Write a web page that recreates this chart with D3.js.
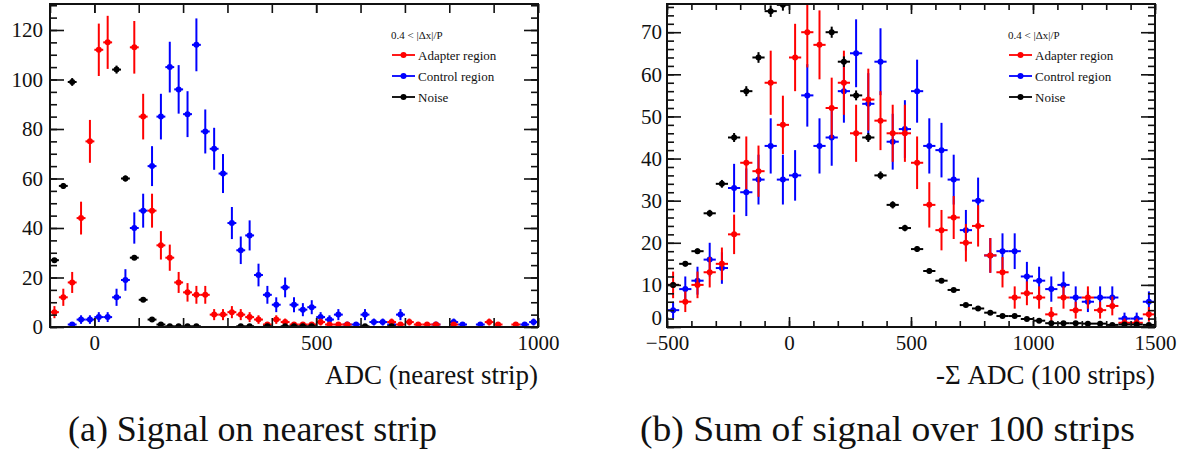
<!DOCTYPE html>
<html>
<head>
<meta charset="utf-8">
<script src="https://cdn.jsdelivr.net/npm/d3@7/dist/d3.min.js"></script>
<style>
  body { margin: 0; background: #fff; }
  text { font-family: "Liberation Serif", "DejaVu Serif", "Noto Serif", Tinos, Times, serif; fill: #111; }
</style>
</head>
<body>
<svg id="fig" width="1195" height="457"></svg>
<script>
// ---------- Panel (a): ADC on the nearest strip (20-count bins) ----------
const adcBins = [-90, -70, -50, -30, -10, 10, 30, 50, 70, 90,
  110, 130, 150, 170, 190, 210, 230, 250, 270, 290,
  310, 330, 350, 370, 390, 410, 430, 450, 470, 490,
  510, 530, 550, 570, 590, 610, 630, 650, 670, 690,
  710, 730, 750, 770, 790, 810, 830, 850, 870, 890,
  910, 930, 950, 970, 990];
const adcAdapter = [6, 12, 18, 44, 75, 112, 115, 155, 148, 113,
  85, 47, 33, 28, 18, 14, 13, 13, 5, 5,
  6, 5, 4, 3, 1, 3, 2, 1, 1, 1,
  2, 1, 1, 1, 0, 0, 0, 0, 2, 1,
  2, 1, 1, 1, 0, 1, 0, 0, 0, 2,
  1, 0, 1, 0, 0];
const adcControl = [0, 0, 1, 3, 3, 4, 4, 12, 19, 40,
  47, 65, 85, 105, 96, 86, 114, 79, 72, 62,
  42, 31, 37, 21, 13, 9, 16, 9, 7, 8,
  4, 3, 5, 1, 1, 5, 2, 2, 1, 5,
  0, 0, 0, 1, 0, 2, 1, 0, 1, 0,
  0, 0, 0, 1, 2];
const adcNoise = [27, 57, 99, 190, 260, 240, 170, 104, 60, 28,
  11, 3, 1, 0.3, 0.3, 0.3, 0.3, 0, 0, 0,
  0, 0.3, 0.3, 0, 0.3, 0, 0.3, 0.3, 0.3, 0.3,
  0, 0, 0, 0, 0, 0.3, 0, 0, 0.3, 0,
  0, 0, 0, 0, 0, 0, 0, 0, 0, 0,
  0, 0, 0, 0, 0];

// ---------- Panel (b): summed ADC over 100 strips (50-count bins) ----------
const sumBins = [-475, -425, -375, -325, -275, -225, -175, -125, -75, -25,
  25, 75, 125, 175, 225, 275, 325, 375, 425, 475,
  525, 575, 625, 675, 725, 775, 825, 875, 925, 975,
  1025, 1075, 1125, 1175, 1225, 1275, 1325, 1375, 1425, 1475];
const sumAdapter = [10, 6, 10, 13, 15, 22, 39, 37, 58, 48,
  64, 70, 67, 52, 58, 46, 54, 49, 46, 46,
  39, 29, 23, 26, 20, 24, 17, 13, 7, 8,
  7, 3, 7, 4, 7, 4, 5, 1, 1, 3];
const sumControl = [4, 9, 11, 16, 14, 33, 32, 35, 43, 35,
  36, 55, 43, 45, 56, 65, 53, 63, 44, 47,
  56, 43, 42, 35, 23, 30, 17, 18, 18, 12,
  11, 9, 10, 7, 6, 7, 7, 2, 2, 6];
const sumNoise = [10, 15, 18, 27, 34, 45, 56, 64, 75, 76.5,
  81, 80, 79, 70, 63, 55, 45, 36, 29, 23.5,
  18.5, 13.3, 11, 8.8, 5.2, 4.4, 3.4, 2.6, 2.6, 1.9,
  1.5, 0.9, 0.9, 0.9, 0.8, 0.8, 0.5, 0.6, 0.6, 0.5];

// ---------- Labels ----------
const xTicksA = [0, 500, 1000];
const yTicksA = [0, 20, 40, 60, 80, 100, 120];
const xTicksB = [-500, 0, 500, 1000, 1500];
const yTicksB = [0, 10, 20, 30, 40, 50, 60, 70];
const legendHeader = "0.4 < |\u0394x|/P";
const seriesNames = ["Adapter region", "Control region", "Noise"];
const seriesColors = ["#ff0000", "#0000ff", "#000000"];
const xTitles = ["ADC (nearest strip)", "-\u03A3 ADC (100 strips)"];
const captions = ["(a) Signal on nearest strip", "(b) Sum of signal over 100 strips"];

// Noise histogram is normalised from a larger sample, so its errors shrink
const NOISE_WEIGHT = 0.025;
const countErr = v => Math.sqrt(v);
const noiseErr = v => Math.sqrt(v * NOISE_WEIGHT);

const SERIF = '"Liberation Serif", "DejaVu Serif", "Noto Serif", Tinos, Times, serif';
const svg = d3.select("#fig");
const defs = svg.append("defs");

function drawPanel(cfg) {
  const x = d3.scaleLinear().domain(cfg.xDomain).range([cfg.left, cfg.right]);
  const y = d3.scaleLinear().domain(cfg.yDomain).range([cfg.bottom, cfg.top]);
  const g = svg.append("g");

  defs.append("clipPath").attr("id", "clip-" + cfg.id)
    .append("rect")
    .attr("x", cfg.left).attr("y", cfg.top)
    .attr("width", cfg.right - cfg.left).attr("height", cfg.bottom - cfg.top);

  const plot = g.append("g").attr("clip-path", `url(#clip-${cfg.id})`);

  // Order: control, adapter, noise on top
  const order = [1, 0, 2];
  order.forEach(k => {
    const s = cfg.series[k];
    const pts = cfg.bins.map((c, i) => ({ c, v: s.values[i] }))
      .filter(d => d.v > 0)
      .map(d => ({ ...d, e: s.err(d.v) }));
    const sg = plot.append("g").attr("stroke", s.color).attr("fill", s.color);
    sg.selectAll("line.ev").data(pts).join("line").attr("class", "ev")
      .attr("x1", d => x(d.c)).attr("x2", d => x(d.c))
      .attr("y1", d => y(Math.max(0, d.v - d.e))).attr("y2", d => y(d.v + d.e))
      .attr("stroke-width", 2);
    sg.selectAll("line.eh").data(pts).join("line").attr("class", "eh")
      .attr("x1", d => x(d.c - cfg.halfBin)).attr("x2", d => x(d.c + cfg.halfBin))
      .attr("y1", d => y(d.v)).attr("y2", d => y(d.v))
      .attr("stroke-width", 2);
    sg.selectAll("circle").data(pts).join("circle")
      .attr("cx", d => x(d.c)).attr("cy", d => y(d.v))
      .attr("r", 3).attr("stroke", "none");
  });

  // Axes with inward ticks on all four sides
  const styleAxis = sel => {
    sel.select(".domain").remove();
    sel.selectAll("line").attr("stroke", "#111").attr("stroke-width", 1.6);
    sel.selectAll("text").attr("font-family", SERIF)
      .attr("font-size", 21).attr("fill", "#111");
  };
  const bottomY = cfg.bottom, topY = cfg.top;

  // x axes
  const xMinor = d3.range(cfg.xDomain[0], cfg.xDomain[1] + 1, cfg.xMinorStep);
  [[d3.axisBottom, bottomY], [d3.axisTop, topY]].forEach(([fn, pos]) => {
    g.append("g").attr("transform", `translate(0,${pos})`)
      .call(fn(x).tickValues(xMinor).tickSize(-cfg.xMinorLen).tickFormat(""))
      .call(styleAxis);
    g.append("g").attr("transform", `translate(0,${pos})`)
      .call(fn(x).tickValues(cfg.xTicks).tickSize(-cfg.xMajorLen).tickPadding(8)
        .tickFormat(pos === bottomY ? (d => d < 0 ? "\u2212" + Math.abs(d) : d) : ""))
      .call(styleAxis);
  });

  // y axes
  const yMinor = d3.range(cfg.yDomain[0], cfg.yDomain[1], cfg.yMinorStep);
  [[d3.axisLeft, cfg.left], [d3.axisRight, cfg.right]].forEach(([fn, pos]) => {
    g.append("g").attr("transform", `translate(${pos},0)`)
      .call(fn(y).tickValues(yMinor).tickSize(-7).tickFormat(""))
      .call(styleAxis);
    const ax = g.append("g").attr("transform", `translate(${pos},0)`)
      .call(fn(y).tickValues(cfg.yTicks).tickSize(-14).tickPadding(cfg.yPad)
        .tickFormat(pos === cfg.left ? d3.format("d") : ""))
      .call(styleAxis);
    // lift the zero label a little so it clears the x labels
    ax.selectAll(".tick text").filter(d => d === 0).attr("dy", cfg.zeroDy);
  });

  // frame
  g.append("rect")
    .attr("x", cfg.left).attr("y", cfg.top)
    .attr("width", cfg.right - cfg.left).attr("height", cfg.bottom - cfg.top)
    .attr("fill", "none").attr("stroke", "#111").attr("stroke-width", 2);

  // legend
  const lg = g.append("g");
  lg.append("text").attr("x", cfg.legendX).attr("y", 39)
    .attr("font-size", 11).text(legendHeader);
  seriesNames.forEach((name, i) => {
    const yy = 55 + i * 21;
    lg.append("line").attr("x1", cfg.legendX + 1).attr("x2", cfg.legendX + 24)
      .attr("y1", yy).attr("y2", yy).attr("stroke", seriesColors[i]).attr("stroke-width", 1.8);
    lg.append("circle").attr("cx", cfg.legendX + 12.5).attr("cy", yy).attr("r", 3)
      .attr("fill", seriesColors[i]);
    lg.append("text").attr("x", cfg.legendX + 27).attr("y", yy + 4.5)
      .attr("font-size", 13).text(name);
  });

  // axis title
  g.append("text").attr("x", cfg.right).attr("y", 384)
    .attr("text-anchor", "end").attr("font-size", 27).text(cfg.xTitle);

  // caption
  g.append("text").attr("x", cfg.captionX).attr("y", 441)
    .attr("font-size", 35).attr("textLength", cfg.captionLen)
    .attr("lengthAdjust", "spacingAndGlyphs").text(cfg.caption);
}

drawPanel({
  id: "a", left: 50, right: 538, top: 4, bottom: 327,
  xDomain: [-100, 1000], yDomain: [0, 130.5],
  xTicks: xTicksA, yTicks: yTicksA, xMinorStep: 100, xMinorLen: 9, xMajorLen: 9,
  yMinorStep: 5, yPad: 7, halfBin: 10, zeroDy: "0.32em",
  bins: adcBins,
  series: [
    { values: adcAdapter, color: seriesColors[0], err: countErr },
    { values: adcControl, color: seriesColors[1], err: countErr },
    { values: adcNoise, color: seriesColors[2], err: noiseErr }
  ],
  legendX: 391, xTitle: xTitles[0],
  caption: captions[0], captionX: 68, captionLen: 369
});

drawPanel({
  id: "b", left: 667, right: 1155, top: 4, bottom: 327,
  xDomain: [-500, 1500], yDomain: [0, 76.7],
  xTicks: xTicksB, yTicks: yTicksB, xMinorStep: 100, xMinorLen: 6, xMajorLen: 10,
  yMinorStep: 2, yPad: 5, halfBin: 25, zeroDy: "-0.12em",
  bins: sumBins,
  series: [
    { values: sumAdapter, color: seriesColors[0], err: countErr },
    { values: sumControl, color: seriesColors[1], err: countErr },
    { values: sumNoise, color: seriesColors[2], err: noiseErr }
  ],
  legendX: 1008, xTitle: xTitles[1],
  caption: captions[1], captionX: 640, captionLen: 495
});
</script>
</body>
</html>
